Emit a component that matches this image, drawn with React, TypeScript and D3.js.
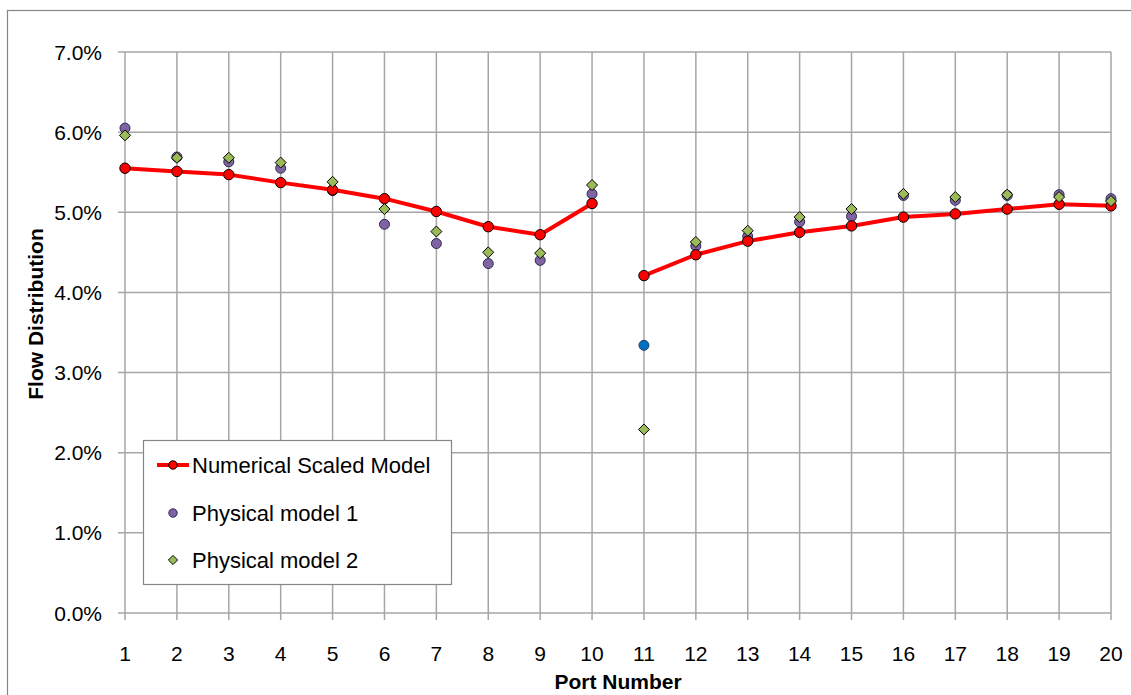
import React from "react";
import * as d3 from "d3";

const ports = [1, 2, 3, 4, 5, 6, 7, 8, 9, 10, 11, 12, 13, 14, 15, 16, 17, 18, 19, 20];
const numericalScaled = [5.55, 5.51, 5.47, 5.37, 5.28, 5.17, 5.01, 4.82, 4.72, 5.11, 4.21, 4.47, 4.64, 4.75, 4.83, 4.94, 4.98, 5.04, 5.10, 5.08];
const physical1 = [6.05, 5.69, 5.63, 5.55, 5.27, 4.85, 4.61, 4.36, 4.40, 5.23, 3.34, 4.58, 4.70, 4.88, 4.95, 5.21, 5.15, 5.21, 5.22, 5.17];
const physical2 = [5.96, 5.68, 5.68, 5.62, 5.38, 5.04, 4.76, 4.50, 4.49, 5.34, 2.29, 4.63, 4.77, 4.94, 5.04, 5.23, 5.19, 5.22, 5.19, 5.14];
const yTicks = [0, 1, 2, 3, 4, 5, 6, 7];
const seriesNames = ["Numerical Scaled Model", "Physical model 1", "Physical model 2"];
const highlightedPort = 11;

const W = 1131;
const H = 695;
const M = { left: 125, right: 1111, top: 52, bottom: 613 };
const FONT = "'Liberation Sans', Arial, sans-serif";
const GRID = "#a6a6a6";

export default function App() {
  const x = d3.scaleLinear().domain([1, 20]).range([M.left, M.right]);
  const y = d3.scaleLinear().domain([0, 7]).range([M.bottom, M.top]);
  const line = d3
    .line<number>()
    .x((_, i) => x(ports[i]))
    .y((d) => y(d));
  const line2 = d3
    .line<number>()
    .x((_, i) => x(ports[i + 10]))
    .y((d) => y(d));
  const diamond = (s: number) => `M0,${-s}L${s},0L0,${s}L${-s},0Z`;

  return (
    <svg
      width={W}
      height={H}
      style={{ position: "absolute", left: 0, top: 0, background: "#fff" }}
      fontFamily={FONT}
    >
      <rect x={7.5} y={10.5} width={W + 20} height={H + 20} fill="#fff" stroke="#868686" strokeWidth={1.2} />

      {yTicks.map((t) => (
        <g key={"hy" + t}>
          <line x1={M.left - 7} x2={M.right} y1={y(t)} y2={y(t)} stroke={GRID} strokeWidth={1.5} />
          <text x={102} y={y(t)} dy="0.36em" textAnchor="end" fontSize={21} fill="#000">
            {d3.format(".1f")(t) + "%"}
          </text>
        </g>
      ))}
      {ports.map((p) => (
        <g key={"vx" + p}>
          <line x1={x(p)} x2={x(p)} y1={M.top} y2={M.bottom + 7} stroke={GRID} strokeWidth={1.5} />
          <text x={x(p)} y={661} textAnchor="middle" fontSize={21} fill="#000">
            {p}
          </text>
        </g>
      ))}

      <text x={(M.left + M.right) / 2} y={689} textAnchor="middle" fontSize={21} fontWeight="bold" fill="#000">
        Port Number
      </text>
      <text
        transform={`translate(43,314) rotate(-90)`}
        textAnchor="middle"
        fontSize={21}
        fontWeight="bold"
        fill="#000"
      >
        Flow Distribution
      </text>

      {physical1.map((v, i) => (
        <circle
          key={"p1" + i}
          cx={x(ports[i])}
          cy={y(v)}
          r={5}
          fill={ports[i] === highlightedPort ? "#0070C0" : "#8064A2"}
          stroke={ports[i] === highlightedPort ? "#1F3F6F" : "#2B2B55"}
          strokeWidth={1}
        />
      ))}

      <path d={line(numericalScaled.slice(0, 10)) || ""} fill="none" stroke="#FF0000" strokeWidth={4} strokeLinejoin="round" />
      <path d={line2(numericalScaled.slice(10)) || ""} fill="none" stroke="#FF0000" strokeWidth={4} strokeLinejoin="round" />
      {numericalScaled.map((v, i) => (
        <circle key={"n" + i} cx={x(ports[i])} cy={y(v)} r={5.2} fill="#FF0000" stroke="#000" strokeWidth={1} />
      ))}

      {physical2.map((v, i) => (
        <path
          key={"p2" + i}
          d={diamond(5.5)}
          transform={`translate(${x(ports[i])},${y(v)})`}
          fill="#9BBB59"
          stroke="#000"
          strokeWidth={1}
        />
      ))}

      <g>
        <rect x={143.5} y={440.5} width={308} height={144} fill="#fff" stroke="#868686" strokeWidth={1.2} />
        <line x1={157} x2={189} y1={465} y2={465} stroke="#FF0000" strokeWidth={4} />
        <circle cx={173} cy={465} r={4.2} fill="#FF0000" stroke="#000" strokeWidth={1} />
        <circle cx={173} cy={513} r={4.2} fill="#8064A2" stroke="#2B2B55" strokeWidth={1} />
        <path d={diamond(4.6)} transform="translate(173,560)" fill="#9BBB59" stroke="#000" strokeWidth={1} />
        {seriesNames.map((s, i) => (
          <text key={s} x={192} y={[465, 513, 560][i]} dy="0.36em" fontSize={22} fill="#000">
            {s}
          </text>
        ))}
      </g>
    </svg>
  );
}
